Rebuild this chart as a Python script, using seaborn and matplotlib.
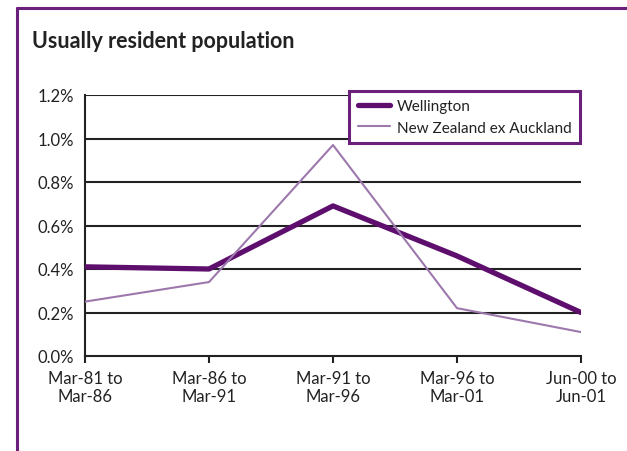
import matplotlib
matplotlib.use("Agg")
import matplotlib.pyplot as plt
from matplotlib.lines import Line2D
import seaborn as sns
import pandas as pd

periods = ["Mar-81 to\nMar-86", "Mar-86 to\nMar-91", "Mar-91 to\nMar-96",
           "Mar-96 to\nMar-01", "Jun-00 to\nJun-01"]
wellington = [0.41, 0.40, 0.69, 0.46, 0.20]
nz_ex_auckland = [0.25, 0.34, 0.97, 0.22, 0.11]
series_names = ["Wellington", "New Zealand ex Auckland"]
y_ticks = [0.0, 0.2, 0.4, 0.6, 0.8, 1.0, 1.2]
title = "Usually resident population"

dark = "#5e0f6e"
light = "#9d78ad"
frame = "#6a1f7a"

sns.set_style("white")
plt.rcParams["font.family"] = ["Lato", "DejaVu Sans"]

df = pd.DataFrame({
    "period": periods * 2,
    "value": wellington + nz_ex_auckland,
    "series": [series_names[0]] * len(periods) + [series_names[1]] * len(periods),
})

fig = plt.figure(figsize=(6.27, 4.52), dpi=100)
ax = fig.add_axes([85 / 627, 1 - 357 / 452, (581 - 85) / 627, (357 - 96) / 452])

for yv in y_ticks[1:]:
    ax.axhline(yv, color="#222222", lw=1.5, zorder=1)

sns.lineplot(data=df[df.series == series_names[0]], x="period", y="value",
             color=dark, lw=3.8, ax=ax, label=series_names[0], zorder=3,
             sort=False)
sns.lineplot(data=df[df.series == series_names[1]], x="period", y="value",
             color=light, lw=1.5, ax=ax, label=series_names[1], zorder=4,
             sort=False)

ax.set_xlim(0, len(periods) - 1)
ax.set_ylim(0, 1.2)
ax.set_yticks(y_ticks)
ax.set_yticklabels([f"{v:.1f}%" for v in y_ticks])
ax.set_xlabel("")
ax.set_ylabel("")
ax.tick_params(axis="y", length=0, pad=8, labelsize=12, colors="#222222")
ax.tick_params(axis="x", length=5, width=1.5, pad=5, labelsize=12,
               colors="#222222", direction="out", bottom=True)
for lab in ax.get_xticklabels():
    lab.set_linespacing(1.15)
for s in ["top", "right"]:
    ax.spines[s].set_visible(False)
for s in ["left", "bottom"]:
    ax.spines[s].set_color("#222222")
    ax.spines[s].set_linewidth(1.5)
ax.patch.set_alpha(0)

handles = [Line2D([], [], color=dark, lw=3.8), Line2D([], [], color=light, lw=1.5)]
leg = ax.legend(handles, series_names, loc="upper right",
                bbox_to_anchor=(0.998, 1.017), borderaxespad=0, fontsize=11,
                frameon=True, fancybox=False, handlelength=2.1,
                handletextpad=0.45, borderpad=0.55, labelspacing=0.5)
leg.get_frame().set_edgecolor(frame)
leg.get_frame().set_linewidth(2.2)
leg.get_frame().set_facecolor("white")
leg.get_frame().set_alpha(1)
leg.set_zorder(10)
for t in leg.get_texts():
    t.set_color("#222222")

fig.text(32 / 627, 1 - 41 / 452, title, fontsize=15.5, fontweight="bold",
         color="#222222", va="center", ha="left")

fig.add_artist(Line2D([17 / 627, 1.0], [1 - 9 / 452, 1 - 9 / 452],
                      color=frame, lw=2.2, transform=fig.transFigure))
fig.add_artist(Line2D([17 / 627, 17 / 627], [1 - 9 / 452, 0.0],
                      color=frame, lw=2.2, transform=fig.transFigure))

fig.savefig("out.png", dpi=100)
